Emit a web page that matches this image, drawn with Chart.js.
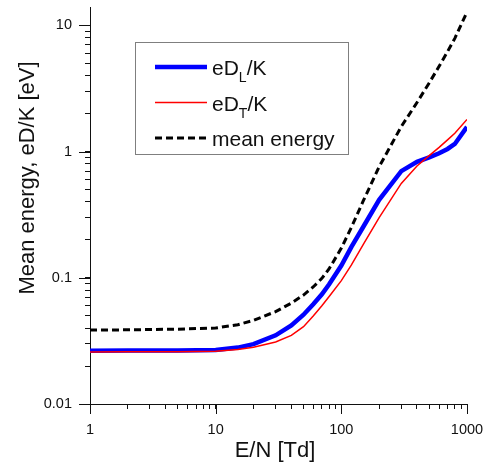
<!DOCTYPE html>
<html>
<head>
<meta charset="utf-8">
<title>Mean energy and eD/K vs E/N</title>
<script src="https://cdn.jsdelivr.net/npm/chart.js@4.4.1/dist/chart.umd.min.js"></script>
<style>
  html, body { margin: 0; padding: 0; background: #fff; }
  #wrap { width: 492px; height: 463px; }
</style>
</head>
<body>
<div id="wrap"><canvas id="chart" width="492" height="463"></canvas></div>
<script>
// Reduced field E/N [Td], shared by all three curves.
var fieldTd = [1, 2, 5, 10, 15, 20, 30, 40, 50, 60, 70, 80, 100, 120, 150, 200, 300, 400, 500, 600, 700, 800, 1000];

// eD_L/K [eV] (thick blue).
var eDLK = [0.0264, 0.0265, 0.0266, 0.0268, 0.028, 0.0298, 0.035, 0.042, 0.051, 0.062, 0.074, 0.089,
    0.125, 0.175, 0.255, 0.415, 0.70, 0.83, 0.90, 0.97, 1.05, 1.15, 1.57];

// eD_T/K [eV] (thin red).
var eDTK = [0.0258, 0.0259, 0.026, 0.0262, 0.027, 0.0282, 0.031, 0.035, 0.041, 0.050, 0.060, 0.071,
    0.095, 0.126, 0.185, 0.30, 0.56, 0.77, 0.93, 1.08, 1.24, 1.40, 1.80];

// Mean energy [eV] (dashed black).
var meanEnergy = [0.0385, 0.0387, 0.0392, 0.040, 0.0425, 0.046, 0.054, 0.063, 0.073, 0.085, 0.099, 0.118,
    0.172, 0.25, 0.41, 0.76, 1.58, 2.45, 3.5, 4.75, 6.2, 7.9, 12.8];

var seriesLabels = ['eD_L/K', 'eD_T/K', 'mean energy'];
var xTickLabels = [1, 10, 100, 1000];
var yTickLabels = [0.01, 0.1, 1, 10];
var xTitle = 'E/N [Td]';
var yTitle = 'Mean energy, eD/K [eV]';

var FONT = "'Liberation Sans', Arial, sans-serif";
var INK = '#111';

function points(ys) {
    return fieldTd.map(function(x, i) {
        return {x: x, y: ys[i]};
    });
}

function isDecade(v) {
    var l = Math.log10(v);
    return Math.abs(l - Math.round(l)) < 1e-6;
}

// True for 1..9 x 10^n, i.e. the values that get a tick mark.
function isStep(v) {
    var m = v / Math.pow(10, Math.floor(Math.log10(v) + 1e-9));
    return Math.abs(m - Math.round(m)) < 1e-6;
}

// Only print the labels listed for the axis, blank for the minor log ticks.
function pickLabel(list, v) {
    for (var i = 0; i < list.length; i++) {
        if (Math.abs(Math.log10(list[i]) - Math.log10(v)) < 1e-6) {
            return String(list[i]);
        }
    }
    return '';
}

function tickColour(context) {
    return context.tick && isStep(context.tick.value) ? INK : 'rgba(0,0,0,0)';
}

// Draw "eD_L/K" as eD with a subscript L.
function drawLabel(ctx, label, x, baseline, size, subSize) {
    var parts = label.split(/_(.)/);
    for (var i = 0; i < parts.length; i++) {
        if (!parts[i]) {
            continue;
        }
        var sub = i % 2 === 1;
        ctx.font = (sub ? subSize : size) + 'px ' + FONT;
        ctx.fillText(parts[i], x, sub ? baseline + 7 : baseline);
        x += ctx.measureText(parts[i]).width;
    }
}

/**
 * Axis decoration: longer marks on the decades, axis titles and the
 * framed legend box inside the plot.
 */
var framePlugin = {
    id: 'frame',
    afterDraw: function(chart, _args, opts) {
        var ctx = chart.ctx;
        var area = chart.chartArea;
        var xs = chart.scales.x;
        var ys = chart.scales.y;

        ctx.save();
        ctx.strokeStyle = INK;
        ctx.lineWidth = 1;
        ctx.beginPath();
        xTickLabels.forEach(function(v) {
            var px = Math.round(xs.getPixelForValue(v)) + 0.5;
            ctx.moveTo(px, area.bottom);
            ctx.lineTo(px, area.bottom + 10);
        });
        yTickLabels.forEach(function(v) {
            var py = Math.round(ys.getPixelForValue(v)) + 0.5;
            ctx.moveTo(area.left, py);
            ctx.lineTo(area.left - 11, py);
        });
        ctx.stroke();

        // Axis titles.
        ctx.fillStyle = INK;
        ctx.font = opts.titleSize + 'px ' + FONT;
        ctx.textAlign = 'center';
        ctx.textBaseline = 'middle';
        ctx.fillText(xTitle, opts.xTitleAt[0], opts.xTitleAt[1]);
        ctx.save();
        ctx.translate(opts.yTitleAt[0], opts.yTitleAt[1]);
        ctx.rotate(-Math.PI / 2);
        ctx.fillText(yTitle, 0, 0);
        ctx.restore();

        // Legend box.
        var lg = opts.legend;
        ctx.fillStyle = '#fff';
        ctx.fillRect(lg.left, lg.top, lg.width, lg.height);
        ctx.strokeStyle = '#7f7f7f';
        ctx.lineWidth = 1;
        ctx.strokeRect(lg.left + 0.5, lg.top + 0.5, lg.width, lg.height);
        chart.data.datasets.forEach(function(ds, i) {
            var rowY = lg.top + lg.firstRow + i * lg.rowGap;
            ctx.strokeStyle = ds.borderColor;
            ctx.lineWidth = ds.borderWidth;
            ctx.setLineDash(ds.borderDash || []);
            ctx.beginPath();
            ctx.moveTo(lg.left + 20, rowY);
            ctx.lineTo(lg.left + 72, rowY);
            ctx.stroke();
            ctx.setLineDash([]);
            ctx.fillStyle = INK;
            ctx.textAlign = 'left';
            ctx.textBaseline = 'alphabetic';
            drawLabel(ctx, ds.label, lg.left + 77, rowY + 8, lg.size, lg.subSize);
        });
        ctx.restore();
    }
};

function tickFont() {
    return {family: FONT, size: 14.5};
}

// Short outward marks from Chart.js on every 1..9 step, no grid lines inside.
function axisGrid() {
    return {
        display: true,
        drawOnChartArea: false,
        drawTicks: true,
        tickLength: 5,
        tickWidth: 1,
        tickColor: tickColour
    };
}

new Chart(document.getElementById('chart'), {
    type: 'line',
    data: {
        datasets: [{
            label: seriesLabels[0],
            data: points(eDLK),
            borderColor: '#0000ff',
            borderWidth: 4.5,
            order: 1
        }, {
            label: seriesLabels[1],
            data: points(eDTK),
            borderColor: '#ff0000',
            borderWidth: 1.5,
            order: 0
        }, {
            label: seriesLabels[2],
            data: points(meanEnergy),
            borderColor: '#000000',
            borderWidth: 3,
            borderDash: [7, 4],
            order: 2
        }]
    },
    options: {
        responsive: false,
        animation: false,
        elements: {
            point: {radius: 0},
            line: {tension: 0, fill: false}
        },
        layout: {
            padding: {top: 7, right: 25, left: 0, bottom: 0}
        },
        scales: {
            x: {
                type: 'logarithmic',
                min: 1,
                max: 1000,
                grid: axisGrid(),
                border: {display: true, color: INK, width: 1},
                ticks: {
                    autoSkip: false,
                    maxRotation: 0,
                    padding: 12,
                    color: INK,
                    font: tickFont(),
                    callback: function(v) {
                        return pickLabel(xTickLabels, v);
                    }
                },
                afterFit: function(scale) {
                    scale.height = 59;
                    scale.paddingLeft = 0;
                    scale.paddingRight = 0;
                }
            },
            y: {
                type: 'logarithmic',
                min: 0.01,
                max: 14,
                grid: axisGrid(),
                border: {display: true, color: INK, width: 1},
                ticks: {
                    autoSkip: false,
                    padding: 13,
                    color: INK,
                    font: tickFont(),
                    callback: function(v) {
                        return pickLabel(yTickLabels, v);
                    }
                },
                afterFit: function(scale) {
                    scale.width = 90;
                    scale.paddingTop = 0;
                    scale.paddingBottom = 0;
                }
            }
        },
        plugins: {
            legend: {display: false},
            tooltip: {enabled: false},
            frame: {
                titleSize: 22,
                xTitleAt: [275, 451],
                yTitleAt: [28, 178],
                legend: {left: 135, top: 42, width: 213, height: 112, firstRow: 25, rowGap: 35.5, size: 21, subSize: 14}
            }
        }
    },
    plugins: [framePlugin]
});
</script>
</body>
</html>
